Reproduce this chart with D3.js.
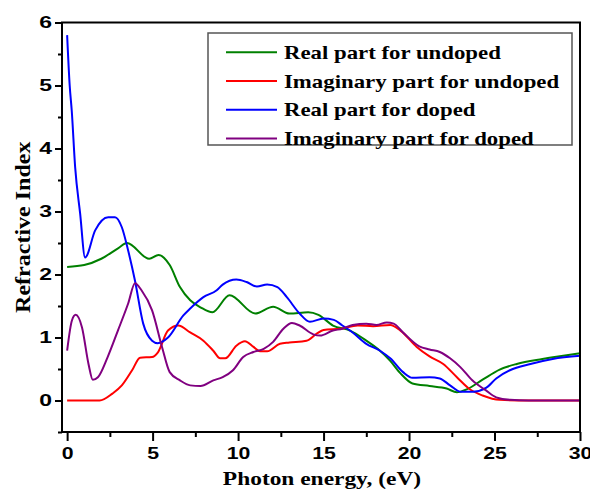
<!DOCTYPE html>
<html>
<head>
<meta charset="utf-8">
<script src="https://cdn.jsdelivr.net/npm/d3@7/dist/d3.min.js"></script>
<style>
  html, body { margin: 0; padding: 0; background: #fff; }
  svg { display: block; }
</style>
</head>
<body>
<div id="chart"></div>
<script>
// Refractive index (real / imaginary) vs photon energy, undoped and doped
const energyRealUndoped = [0, 1, 2, 3, 3.5, 4.8, 5.35, 6.0, 6.6, 7.2, 7.8, 8.5, 9.5, 11.0, 12.05, 13.0, 14.1, 14.7, 15.55, 16.55, 17.5, 18.3, 18.9, 19.5, 20.2, 21.2, 22.2, 22.8, 23.4, 24.3, 25.3, 26.3, 27.8, 30];
const realUndoped       = [2.12, 2.15, 2.25, 2.42, 2.5, 2.25, 2.31, 2.15, 1.8, 1.59, 1.48, 1.40, 1.67, 1.38, 1.49, 1.38, 1.40, 1.36, 1.19, 1.11, 0.95, 0.79, 0.63, 0.43, 0.27, 0.23, 0.19, 0.13, 0.18, 0.33, 0.49, 0.58, 0.66, 0.75];

const energyImagUndoped = [0, 1.0, 1.9, 2.65, 3.2, 3.8, 4.27, 4.97, 5.3, 5.9, 6.5, 7.2, 7.97, 8.55, 8.95, 9.25, 9.9, 10.4, 10.9, 11.3, 11.7, 12.45, 13.0, 14.0, 14.6, 15.0, 16.0, 17.0, 17.9, 18.9, 19.5, 20.45, 21.2, 22.0, 22.8, 23.6, 24.3, 25.3, 27, 30];
const imagUndoped       = [0, 0, 0, 0.11, 0.24, 0.48, 0.68, 0.69, 0.76, 1.11, 1.19, 1.08, 0.95, 0.79, 0.67, 0.67, 0.87, 0.94, 0.85, 0.78, 0.78, 0.90, 0.92, 0.95, 1.06, 1.12, 1.14, 1.19, 1.18, 1.20, 1.11, 0.85, 0.70, 0.58, 0.37, 0.17, 0.08, 0.01, 0, 0];

const energyRealDoped = [0, 0.15, 0.27, 0.47, 0.76, 1.05, 1.64, 2.4, 2.8, 3.2, 3.57, 3.97, 4.45, 4.97, 5.3, 5.9, 6.8, 7.2, 7.97, 8.75, 9.1, 9.9, 10.5, 11.1, 11.7, 12.3, 12.85, 13.6, 14.2, 15.0, 15.6, 16.1, 16.7, 17.5, 18.3, 18.9, 19.65, 20.2, 21.2, 21.8, 22.4, 23.0, 23.75, 24.5, 25.1, 25.9, 27.1, 28.4, 30];
const realDoped       = [5.8, 5.0, 4.6, 3.7, 2.97, 2.27, 2.7, 2.91, 2.91, 2.75, 2.38, 1.9, 1.22, 0.95, 0.91, 1.0, 1.35, 1.46, 1.64, 1.75, 1.84, 1.92, 1.88, 1.81, 1.84, 1.80, 1.64, 1.38, 1.25, 1.30, 1.28, 1.19, 1.08, 0.90, 0.79, 0.67, 0.45, 0.36, 0.37, 0.35, 0.24, 0.14, 0.14, 0.2, 0.35, 0.48, 0.58, 0.66, 0.71];

const energyImagDoped = [0, 0.28, 0.5, 0.87, 1.25, 1.5, 1.8, 2.37, 2.97, 3.57, 3.97, 4.35, 4.97, 5.55, 6.0, 6.6, 7.2, 7.8, 8.55, 9.1, 9.7, 10.3, 10.9, 11.5, 12.05, 12.65, 13.15, 13.6, 14.4, 14.8, 15.55, 16.1, 16.7, 17.5, 18.1, 18.7, 19.1, 19.65, 20.6, 21.2, 21.8, 22.4, 23.0, 23.7, 24.5, 25.1, 25.9, 27, 30];
const imagDoped       = [0.79, 1.27, 1.36, 1.16, 0.58, 0.33, 0.37, 0.69, 1.11, 1.54, 1.86, 1.75, 1.43, 0.85, 0.45, 0.32, 0.24, 0.23, 0.32, 0.37, 0.48, 0.69, 0.77, 0.82, 0.93, 1.14, 1.23, 1.19, 1.05, 1.03, 1.11, 1.14, 1.20, 1.22, 1.20, 1.24, 1.22, 1.08, 0.86, 0.81, 0.77, 0.67, 0.53, 0.32, 0.16, 0.05, 0.01, 0, 0];

const seriesNames  = ["Real part for undoped", "Imaginary part for undoped", "Real part for doped", "Imaginary part for doped"];
const seriesColors = ["#008000", "#ff0000", "#0000ff", "#800080"];

const xTicks = [0, 5, 10, 15, 20, 25, 30];
const yTicks = [0, 1, 2, 3, 4, 5, 6];

const series = [
  { name: seriesNames[0], color: seriesColors[0], x: energyRealUndoped, y: realUndoped },
  { name: seriesNames[1], color: seriesColors[1], x: energyImagUndoped, y: imagUndoped },
  { name: seriesNames[2], color: seriesColors[2], x: energyRealDoped,   y: realDoped },
  { name: seriesNames[3], color: seriesColors[3], x: energyImagDoped,   y: imagDoped }
];

const W = 590, H = 492;
const margin = { left: 62, top: 22.5, right: 10, bottom: 60 };
const plotW = 580 - margin.left;
const plotH = 432 - margin.top;

// the typography of this figure is a little wider than its height suggests
function widen(sel, k) {
  sel.each(function () {
    const len = this.getComputedTextLength();
    d3.select(this).attr("textLength", len * k).attr("lengthAdjust", "spacingAndGlyphs");
  });
}

const svg = d3.select("#chart").append("svg")
  .attr("width", W).attr("height", H);

const x = d3.scaleLinear().domain([-0.3, 30]).range([0, plotW]);
const y = d3.scaleLinear().domain([-0.5, 6]).range([plotH, 0]);

const g = svg.append("g").attr("transform", `translate(${margin.left},${margin.top})`);

// data lines
const line = d3.line()
  .x(d => x(d[0]))
  .y(d => y(d[1]))
  .curve(d3.curveMonotoneX);

g.selectAll("path.series")
  .data(series)
  .join("path")
  .attr("class", "series")
  .attr("fill", "none")
  .attr("stroke", d => d.color)
  .attr("stroke-width", 2)
  .attr("stroke-linejoin", "round")
  .attr("d", d => line(d.x.map((e, i) => [e, d.y[i]])));

// frame
g.append("rect")
  .attr("x", 0).attr("y", 0)
  .attr("width", plotW).attr("height", plotH)
  .attr("fill", "none").attr("stroke", "#000").attr("stroke-width", 2);

const tickFont = "bold 17px 'Liberation Sans', Arial, sans-serif";

// x axis
const xAxis = g.append("g").attr("transform", `translate(0,${plotH})`)
  .call(d3.axisBottom(x).tickValues(xTicks).tickSize(9).tickPadding(6).tickFormat(d3.format("d")));
xAxis.select(".domain").remove();
xAxis.selectAll(".tick line").attr("stroke-width", 2);
xAxis.selectAll(".tick text").style("font", tickFont).attr("fill", "#000").call(widen, 1.25);

g.append("g").attr("transform", `translate(0,${plotH})`)
  .call(d3.axisBottom(x).tickValues(d3.range(2.5, 30, 5)).tickSize(5).tickFormat(""))
  .call(a => a.select(".domain").remove())
  .selectAll(".tick line").attr("stroke-width", 2);

// y axis
const yAxis = g.append("g")
  .call(d3.axisLeft(y).tickValues(yTicks).tickSize(7).tickPadding(3).tickFormat(d3.format("d")));
yAxis.select(".domain").remove();
yAxis.selectAll(".tick line").attr("stroke-width", 2);
yAxis.selectAll(".tick text").style("font", tickFont).attr("fill", "#000").call(widen, 1.35);

g.append("g")
  .call(d3.axisLeft(y).tickValues(d3.range(-0.5, 6, 1)).tickSize(4).tickFormat(""))
  .call(a => a.select(".domain").remove())
  .selectAll(".tick line").attr("stroke-width", 2);

// axis titles
svg.append("text")
  .attr("x", 322).attr("y", 485)
  .attr("text-anchor", "middle")
  .style("font", "bold 19.5px 'Liberation Serif', 'Times New Roman', serif")
  .text("Photon energy, (eV)")
  .call(widen, 1.2);

svg.append("text")
  .attr("transform", `translate(30,${margin.top + y(2.75)}) rotate(-90)`)
  .attr("text-anchor", "middle")
  .style("font", "bold 20px 'Liberation Serif', 'Times New Roman', serif")
  .text("Refractive Index")
  .call(widen, 1.2);

// legend
const legend = svg.append("g").attr("transform", "translate(208,33)");
legend.append("rect")
  .attr("x", 0).attr("y", 0).attr("width", 364).attr("height", 112)
  .attr("fill", "#fff").attr("stroke", "#555").attr("stroke-width", 1.5);

const rows = legend.selectAll("g.row").data(series).join("g")
  .attr("class", "row")
  .attr("transform", (d, i) => `translate(0,${19.3 + i * 28.7})`);
rows.append("line")
  .attr("x1", 18).attr("x2", 69).attr("y1", 0).attr("y2", 0)
  .attr("stroke", d => d.color).attr("stroke-width", 2);
rows.append("text")
  .attr("x", 76).attr("y", 6.5)
  .style("font", "bold 19px 'Liberation Serif', 'Times New Roman', serif")
  .text(d => d.name)
  .call(widen, 1.2);
</script>
</body>
</html>
